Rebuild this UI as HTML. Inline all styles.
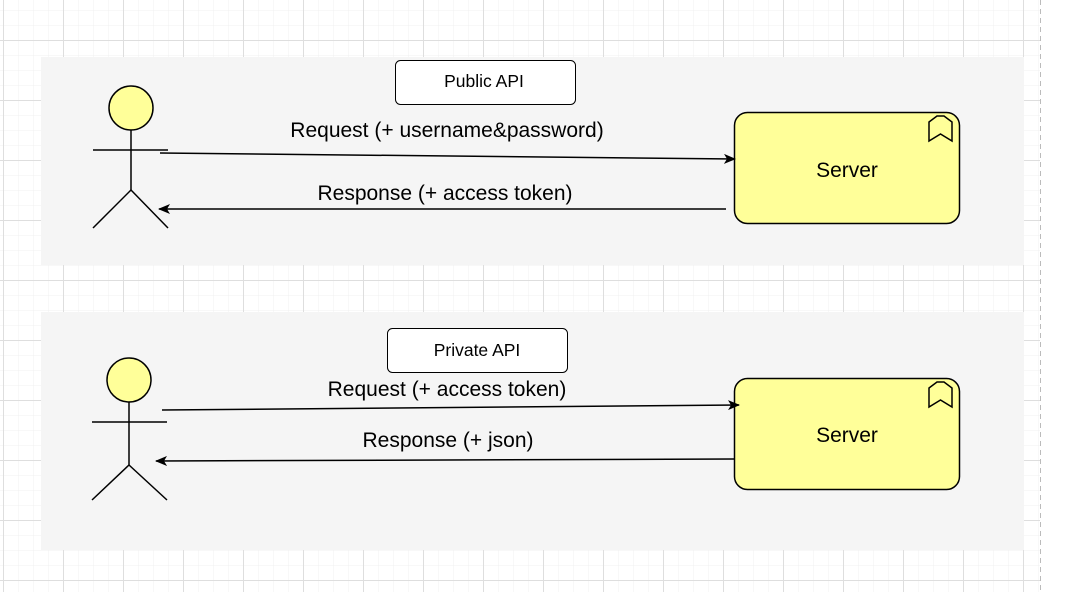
<!DOCTYPE html>
<html><head><meta charset="utf-8"><style>
html,body{margin:0;padding:0;background:#fff;}
svg{display:block;}
text{font-family:"Liberation Sans",Arial,sans-serif;fill:#000;}
</style></head><body>
<svg width="1070" height="592" viewBox="0 0 1070 592" xmlns="http://www.w3.org/2000/svg">
<defs>
<pattern id="minor" x="3" y="10" width="15" height="15" patternUnits="userSpaceOnUse">
<path d="M0 0V15M0 0H15" stroke="#f0f0f0" stroke-width="1" fill="none"/>
</pattern>
<pattern id="major" x="3" y="40" width="60" height="60" patternUnits="userSpaceOnUse">
<path d="M0.5 0V60M0 0.5H60" stroke="#dedede" stroke-width="1" fill="none"/>
</pattern>
<marker id="ah" markerWidth="12" markerHeight="10" refX="11" refY="5" orient="auto" markerUnits="userSpaceOnUse">
<path d="M0 0 L12 5 L0 10 L3 5 Z" fill="#000"/>
</marker>
</defs>
<rect width="1070" height="592" fill="#fff"/>
<rect width="1040" height="592" fill="url(#minor)"/>
<rect width="1040" height="592" fill="url(#major)"/>
<line x1="1040.5" y1="0" x2="1040.5" y2="592" stroke="#bbb" stroke-dasharray="5,4"/>

<rect x="41" y="57" width="983" height="208" fill="#f5f5f5"/>
<rect x="41" y="312" width="983" height="238" fill="#f5f5f5"/>

<!-- panel 1 -->
<rect x="395.5" y="60.5" width="180" height="44" rx="5" fill="#fff" stroke="#000"/>
<text x="484" y="87" font-size="17.5" text-anchor="middle">Public API</text>
<g stroke="#000" stroke-width="1.5" fill="none">
<circle cx="131" cy="108" r="22" fill="#ffff99"/>
<line x1="131" y1="130" x2="131" y2="190"/>
<line x1="93" y1="150" x2="168" y2="150"/>
<line x1="131" y1="190" x2="93" y2="228"/>
<line x1="131" y1="190" x2="168" y2="228"/>
</g>
<rect x="734.5" y="112.5" width="225" height="111" rx="13" fill="#ffff99" stroke="#000" stroke-width="1.5"/>
<path d="M929 122 L937 116 L944 116 L952 122 L952 141 L940.5 134 L929 141 Z" fill="none" stroke="#000" stroke-width="1.5"/>
<text x="847" y="177" font-size="21" text-anchor="middle">Server</text>
<line x1="160" y1="153" x2="735" y2="159" stroke="#000" stroke-width="1.5" marker-end="url(#ah)"/>
<line x1="726" y1="209" x2="159" y2="209" stroke="#000" stroke-width="1.5" marker-end="url(#ah)"/>
<text x="447" y="137" font-size="21" text-anchor="middle">Request (+ username&amp;password)</text>
<text x="445" y="200" font-size="21" text-anchor="middle">Response (+ access token)</text>

<!-- panel 2 -->
<rect x="387.5" y="328.5" width="180" height="44" rx="5" fill="#fff" stroke="#000"/>
<text x="477" y="356" font-size="17.5" text-anchor="middle">Private API</text>
<g stroke="#000" stroke-width="1.5" fill="none">
<circle cx="129" cy="380" r="22" fill="#ffff99"/>
<line x1="129" y1="402" x2="129" y2="465"/>
<line x1="92" y1="422" x2="167" y2="422"/>
<line x1="129" y1="465" x2="92" y2="500"/>
<line x1="129" y1="465" x2="167" y2="500"/>
</g>
<rect x="734.5" y="378.5" width="225" height="111" rx="13" fill="#ffff99" stroke="#000" stroke-width="1.5"/>
<path d="M929 388 L937 382 L944 382 L952 388 L952 407 L940.5 400 L929 407 Z" fill="none" stroke="#000" stroke-width="1.5"/>
<text x="847" y="442" font-size="21" text-anchor="middle">Server</text>
<line x1="162" y1="410" x2="739" y2="405" stroke="#000" stroke-width="1.5" marker-end="url(#ah)"/>
<line x1="734" y1="459" x2="156" y2="461" stroke="#000" stroke-width="1.5" marker-end="url(#ah)"/>
<text x="447" y="396" font-size="21" text-anchor="middle">Request (+ access token)</text>
<text x="448" y="447" font-size="21" text-anchor="middle">Response (+ json)</text>
</svg>
</body></html>
